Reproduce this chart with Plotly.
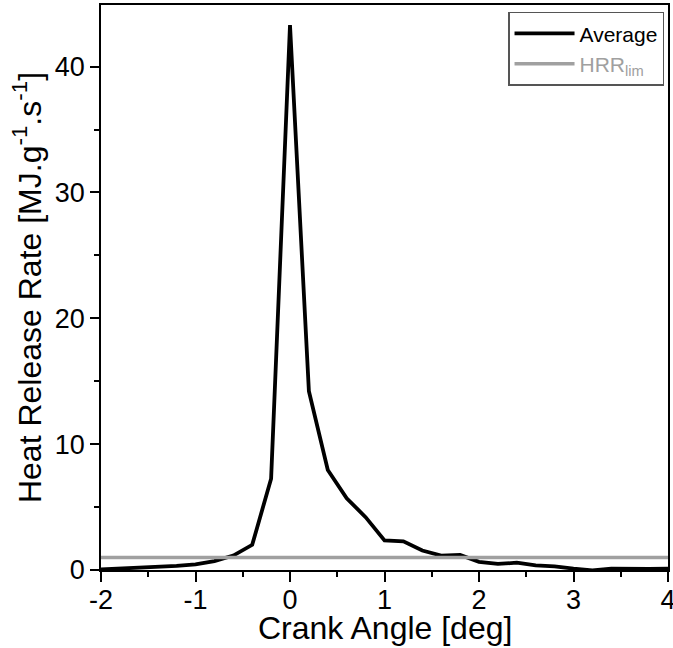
import plotly.graph_objects as go

crank_angle = [-2.0, -1.8, -1.6, -1.4, -1.2, -1.0, -0.8, -0.6, -0.4, -0.2, 0.0,
               0.2, 0.4, 0.6, 0.8, 1.0, 1.2, 1.4, 1.6, 1.8, 2.0, 2.2, 2.4, 2.6,
               2.8, 3.0, 3.2, 3.4, 3.6, 3.8, 4.0]
hrr_average = [0.05, 0.1, 0.15, 0.22, 0.32, 0.45, 0.7, 1.15, 2.0, 7.25, 43.3,
               14.2, 7.95, 5.7, 4.2, 2.35, 2.28, 1.55, 1.15, 1.2, 0.65, 0.48, 0.58, 0.37,
               0.29, 0.11, -0.03, 0.1, 0.07, 0.08, 0.1]
hrr_lim_x = [-2.0, 4.0]
hrr_lim_y = [1.0, 1.0]

x_tickvals = [-2, -1, 0, 1, 2, 3, 4]
x_ticktext = ["-2", "-1", "0", "1", "2", "3", "4"]
y_tickvals = [0, 10, 20, 30, 40]
y_ticktext = ["0", "10", "20", "30", "40"]

fig = go.Figure()
fig.add_trace(go.Scatter(x=crank_angle, y=hrr_average, mode="lines",
                         line=dict(color="black", width=3.8), name="Average"))
fig.add_trace(go.Scatter(x=hrr_lim_x, y=hrr_lim_y, mode="lines",
                         line=dict(color="#a0a0a0", width=3.5),
                         name='<span style="color:#a0a0a0">HRR<sub>lim</sub></span>'))

font_family = "Liberation Sans, Arial, sans-serif"
fig.update_layout(
    width=673, height=648,
    margin=dict(l=101, r=5, t=5, b=78),
    paper_bgcolor="white", plot_bgcolor="white",
    font=dict(family=font_family, color="black", size=28),
    legend=dict(x=0.993, y=0.988, xanchor="right", yanchor="top",
                bordercolor="#555555", borderwidth=1.5, bgcolor="white",
                font=dict(size=21), tracegroupgap=0, itemwidth=60),
    xaxis=dict(range=[-2, 4], tickvals=x_tickvals, ticktext=x_ticktext,
               ticks="outside", ticklen=10, tickwidth=1.5, tickcolor="black",
               minor=dict(dtick=0.5, ticks="outside", ticklen=5, tickwidth=1.5, tickcolor="black"),
               showline=True, linecolor="black", linewidth=1.5, mirror=True,
               showgrid=False, zeroline=False, tickfont=dict(size=27),
               automargin=False, ticklabeloverflow="allow", ticklabelstandoff=-5),
    yaxis=dict(range=[0, 44.9], tickvals=y_tickvals, ticktext=y_ticktext,
               ticks="outside", ticklen=9, tickwidth=1.5, tickcolor="black",
               minor=dict(dtick=5, ticks="outside", ticklen=5, tickwidth=1.5, tickcolor="black"),
               showline=True, linecolor="black", linewidth=1.5, mirror=True,
               showgrid=False, zeroline=False, tickfont=dict(size=27),
               automargin=False,
               title=dict(text="Heat Release Rate [MJ.g<sup>-1</sup>.s<sup>-1</sup>]",
                          font=dict(size=32), standoff=4)),
    annotations=[dict(text="Crank Angle [deg]", xref="paper", yref="paper",
                      x=0.5, y=-0.102, xanchor="center", yanchor="middle",
                      showarrow=False, font=dict(size=32))],
)

fig.write_html("out.html")
